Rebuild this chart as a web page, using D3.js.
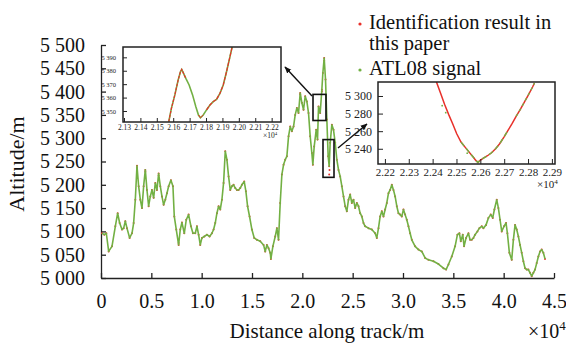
<!DOCTYPE html>
<html>
<head>
<meta charset="utf-8">
<script src="https://cdn.jsdelivr.net/npm/d3@7"></script>
<style>
  body { margin: 0; background: #fff; }
  svg { font-family: "Liberation Serif", "DejaVu Serif", serif; }
</style>
</head>
<body>
<div id="chart"></div>
<script>
// main profile, distance along track (m) / altitude (m)
const distance = [99,331,529,761,1092,1423,1655,1853,2085,2250,2416,2581,2846,3077,3243,3408,3574,3739,3905,4070,4236,4401,4566,4732,4897,5063,5228,5394,5559,5725,5890,6055,6221,6386,6552,6717,6949,7147,7280,7478,7710,7875,8041,8273,8471,8703,8934,9133,9364,9530,9695,9861,10026,10258,10523,10787,11019,11184,11350,11515,11681,11846,12012,12177,12343,12508,12673,12839,13004,13170,13335,13501,13666,13832,13997,14229,14394,14560,14758,14990,15221,15486,15817,16148,16313,16479,16644,16810,16876,17074,17306,17472,17637,17802,17968,18133,18299,18464,18630,18795,18961,19126,19291,19457,19622,19788,19953,20119,20284,20450,20615,20781,20946,21045,21178,21376,21509,21608,21773,21939,22038,22170,22303,22435,22567,22667,22766,22932,23097,23263,23428,23594,23759,23924,24090,24255,24421,24586,24752,24917,25083,25248,25413,25579,25744,25910,26075,26241,26571,26902,27233,27399,27564,27730,27895,28060,28226,28391,28557,28722,28888,29053,29218,29384,29549,29715,29880,30046,30211,30376,30542,30707,30873,31204,31535,31866,32197,32527,33024,33520,34017,34281,34513,34844,35175,35406,35605,35737,35936,36068,36267,36499,36664,36829,36995,37160,37392,37590,37822,37987,38252,38484,38715,38914,39079,39311,39476,39642,39807,40039,40237,40370,40568,40800,40965,41131,41296,41462,41627,41793,41958,42124,42289,42454,42620,42785,42951,43116,43282,43447,43613,43778,43943,44109];
const altitude = [5096,5093,5096,5057,5068,5111,5139,5118,5104,5107,5122,5107,5086,5096,5118,5168,5241,5197,5168,5150,5197,5232,5189,5154,5175,5189,5172,5204,5189,5224,5197,5175,5157,5168,5182,5197,5210,5197,5132,5104,5071,5104,5119,5096,5125,5136,5111,5096,5096,5111,5093,5071,5086,5089,5093,5089,5096,5104,5118,5139,5154,5147,5168,5204,5272,5254,5218,5189,5197,5200,5193,5189,5189,5193,5200,5207,5186,5154,5132,5104,5086,5082,5079,5071,5057,5071,5064,5054,5041,5068,5089,5107,5082,5161,5222,5243,5254,5261,5304,5325,5315,5325,5350,5365,5354,5397,5376,5361,5390,5379,5354,5304,5268,5243,5282,5318,5297,5368,5354,5404,5440,5472,5426,5340,5261,5240,5290,5329,5318,5290,5254,5232,5218,5197,5175,5154,5143,5168,5179,5161,5168,5150,5161,5154,5139,5132,5118,5111,5107,5104,5096,5086,5107,5132,5143,5132,5147,5161,5182,5189,5200,5189,5175,5154,5139,5136,5132,5147,5136,5125,5111,5096,5082,5068,5061,5057,5043,5039,5036,5030,5021,5018,5029,5046,5068,5093,5096,5079,5093,5068,5086,5096,5082,5082,5086,5093,5100,5107,5111,5107,5114,5129,5136,5129,5147,5168,5150,5125,5100,5111,5118,5096,5054,5039,5082,5114,5104,5089,5071,5054,5036,5021,5018,5018,5011,5004,5011,5018,5032,5046,5057,5061,5054,5041];

// points where the identification result leaves the ATL08 line
const redDistance = [3574,4401,5725,7710,16876,19788,21939,22170,22667,22700];
const redAltitude = [5236,5228,5220,5075,5045,5394,5400,5466,5222,5232];

// zoom window 1
const z1Distance = [21573,21589,21610,21630,21644,21652,21661,21677,21697,21718,21738,21754,21766,21783,21803,21824,21844,21864,21885,21905,21925,21946,21962];
const z1Altitude = [5342.1,5352,5362,5373,5379.3,5381,5378.6,5374.3,5369.4,5362,5353.2,5347,5345,5347,5350.8,5354.5,5357,5358.7,5363.2,5369.4,5379.3,5390.5,5399.2];
// zoom window 2
const z2Distance = [22416,22433,22450,22467,22484,22501,22519,22536,22553,22570,22581,22590,22599,22613,22630,22647,22664,22681,22699,22716,22733,22750,22767,22784,22801,22819,22827];
const z2Altitude = [5316,5303.4,5290.5,5279.1,5268.5,5257.1,5247.6,5241.9,5236.2,5230.6,5226.8,5224.5,5226.8,5229.4,5232.1,5235.5,5240,5245.7,5253.3,5260.9,5268.5,5276.9,5284.4,5292.8,5301.1,5310.2,5314.8];
// stray ATL08 points beside the curve in window 2
const z2StrayDistance = [22440, 22455, 22545];
const z2StrayAltitude = [5289, 5281, 5235];

// rectangles drawn on the main profile
const box1 = { d: [21060, 22350], alt: [5338, 5394] };
const box2 = { d: [22053, 23146], alt: [5216, 5297] };

const xTicks = d3.range(0, 45001, 5000);
const yTicks = d3.range(5000, 5501, 50);

const red = "#e8302a", green = "#72b043";
const width = 566, height = 344;

const svg = d3.select("#chart").append("svg")
  .attr("width", width).attr("height", height);

const x = d3.scaleLinear().domain([0, 45000]).range([101, 554]);
const y = d3.scaleLinear().domain([5000, 5500]).range([278, 45]);

const spaced = d3.formatLocale({ decimal: ".", thousands: " ", grouping: [3], currency: ["", ""] }).format(",");

// axes
const gx = svg.append("g").attr("transform", "translate(0,278)")
  .call(d3.axisBottom(x).tickValues(xTicks).tickSize(-5).tickSizeOuter(0).tickPadding(16)
    .tickFormat(d => d === 0 ? "0" : (d / 1e4).toFixed(1)));
const gy = svg.append("g").attr("transform", "translate(101,0)")
  .call(d3.axisLeft(y).tickValues(yTicks).tickSize(-5).tickSizeOuter(0).tickPadding(16)
    .tickFormat(spaced));
[gx, gy].forEach(g => {
  g.selectAll("text").attr("font-size", 20).attr("font-family", "Liberation Serif").attr("fill", "#111");
  g.selectAll("line, path").attr("stroke", "#222").attr("stroke-width", 1.3);
});

svg.append("text").attr("transform", "translate(24,164) rotate(-90)")
  .attr("text-anchor", "middle").attr("font-size", 22).attr("fill", "#111").text("Altitude/m");
svg.append("text").attr("x", 327).attr("y", 338)
  .attr("text-anchor", "middle").attr("font-size", 21).attr("fill", "#111").text("Distance along track/m");
svg.append("text").attr("x", 528).attr("y", 338).attr("font-size", 20).attr("fill", "#111")
  .html('×10<tspan dy="-8" font-size="13">4</tspan>');

// main profile
const pts = distance.map((d, i) => [d, altitude[i]]);
const line = d3.line().x(d => x(d[0])).y(d => y(d[1]));

svg.append("g").selectAll("circle").data(pts).enter().append("circle")
  .attr("cx", d => x(d[0])).attr("cy", d => y(d[1])).attr("r", 1.0).attr("fill", red);
svg.append("g").selectAll("circle").data(redDistance.map((d, i) => [d, redAltitude[i]])).enter().append("circle")
  .attr("cx", d => x(d[0])).attr("cy", d => y(d[1])).attr("r", 1.0).attr("fill", red);
svg.append("path").datum(pts).attr("d", line)
  .attr("fill", "none").attr("stroke", green).attr("stroke-width", 1.6).attr("stroke-linejoin", "round");

// boxes on main profile
[box1, box2].forEach(b => {
  svg.append("rect")
    .attr("x", x(b.d[0])).attr("y", y(b.alt[1]))
    .attr("width", x(b.d[1]) - x(b.d[0])).attr("height", y(b.alt[0]) - y(b.alt[1]))
    .attr("fill", "none").attr("stroke", "#111").attr("stroke-width", 1.6);
});

// arrows
const defs = svg.append("defs");
defs.append("marker").attr("id", "head").attr("viewBox", "0 0 10 10")
  .attr("refX", 9).attr("refY", 5).attr("markerWidth", 5).attr("markerHeight", 5).attr("orient", "auto")
  .append("path").attr("d", "M0,1L10,5L0,9Z").attr("fill", "#111");
svg.append("line").attr("x1", 312).attr("y1", 96).attr("x2", 285).attr("y2", 67)
  .attr("stroke", "#111").attr("stroke-width", 1.4).attr("marker-end", "url(#head)");
svg.append("line").attr("x1", 338).attr("y1", 148).attr("x2", 367).attr("y2", 124)
  .attr("stroke", "#111").attr("stroke-width", 1.4).attr("marker-end", "url(#head)");

// inset drawing helper
function inset(id, xs, ys, xt, yt, opt) {
  const g = svg.append("g");
  const [x0, x1] = xs.range(), [y0, y1] = ys.range();
  g.append("rect").attr("x", x0).attr("y", y1).attr("width", x1 - x0).attr("height", y0 - y1).attr("fill", "#fff");
  defs.append("clipPath").attr("id", id).append("rect")
    .attr("x", x0).attr("y", y1).attr("width", x1 - x0).attr("height", y0 - y1);
  const body = g.append("g").attr("clip-path", `url(#${id})`);
  g.append("g").attr("transform", `translate(0,${y0})`)
    .call(d3.axisBottom(xs).tickValues(xt).tickSize(-opt.tick).tickSizeOuter(0).tickPadding(opt.xpad)
      .tickFormat(d => (d / 1e4).toFixed(2)))
    .call(a => a.selectAll("text").attr("font-size", opt.xfont));
  g.append("g").attr("transform", `translate(${x0},0)`)
    .call(d3.axisLeft(ys).tickValues(yt).tickSize(-opt.tick).tickSizeOuter(0).tickPadding(opt.ypad)
      .tickFormat(spaced))
    .call(a => a.selectAll("text").attr("font-size", opt.yfont));
  g.selectAll("text").attr("font-family", "Liberation Serif").attr("fill", "#222");
  g.selectAll(".domain").remove();
  g.selectAll(".tick line").attr("stroke", "#222").attr("stroke-width", 1);
  g.append("rect").attr("x", x0).attr("y", y1).attr("width", x1 - x0).attr("height", y0 - y1)
    .attr("fill", "none").attr("stroke", "#222").attr("stroke-width", 1.5);
  g.append("text").attr("x", x1 - opt.expX).attr("y", y0 + opt.expY)
    .attr("font-size", opt.xfont).attr("fill", "#222").attr("font-family", "Liberation Serif")
    .html(`×10<tspan dy="-${opt.xfont * 0.4}" font-size="${opt.xfont * 0.65}">4</tspan>`);
  return body;
}

// window 1
const xz1 = d3.scaleLinear().domain([21294, 22257]).range([123, 281]);
const yz1 = d3.scaleLinear().domain([5341.8, 5397.7]).range([122, 47]);
const b1 = inset("clip1", xz1, yz1, d3.range(21300, 22201, 100), d3.range(5350, 5391, 10),
  { tick: 4, xpad: 3, ypad: 7, xfont: 7.5, yfont: 6.5, expX: 18, expY: 16 });
const l1 = d3.line().x(d => xz1(d[0])).y(d => yz1(d[1]));
const z1 = z1Distance.map((d, i) => [d, z1Altitude[i]]);
b1.append("path").datum(z1).attr("d", l1).attr("fill", "none").attr("stroke", green).attr("stroke-width", 1.6);
b1.append("path").datum(z1.slice(0, 8)).attr("d", l1).attr("fill", "none").attr("stroke", red)
  .attr("stroke-width", 1.2).attr("stroke-dasharray", "3,1");
b1.append("path").datum(z1.slice(11, 14)).attr("d", l1).attr("fill", "none").attr("stroke", red).attr("stroke-width", 1);
b1.append("path").datum(z1.slice(14)).attr("d", l1).attr("fill", "none").attr("stroke", red)
  .attr("stroke-width", 1.2).attr("stroke-dasharray", "4,1");

// window 2
const xz2 = d3.scaleLinear().domain([22171, 22913]).range([378, 555]);
const yz2 = d3.scaleLinear().domain([5222.7, 5315.9]).range([164, 82]);
const b2 = inset("clip2", xz2, yz2, d3.range(22200, 22901, 100), d3.range(5240, 5301, 20),
  { tick: 5, xpad: 4, ypad: 6, xfont: 11, yfont: 12, expX: 18, expY: 24 });
const l2 = d3.line().x(d => xz2(d[0])).y(d => yz2(d[1]));
const z2 = z2Distance.map((d, i) => [d, z2Altitude[i]]);
b2.append("path").datum(z2).attr("d", l2).attr("fill", "none").attr("stroke", red).attr("stroke-width", 1.5);
b2.append("path").datum(z2.slice(6, 20)).attr("d", l2).attr("fill", "none").attr("stroke", green)
  .attr("stroke-width", 1.4).attr("stroke-dasharray", "5,3");
b2.append("path").datum(z2.slice(21)).attr("d", l2).attr("fill", "none").attr("stroke", green)
  .attr("stroke-width", 1.3).attr("stroke-dasharray", "3,3");
b2.selectAll(".stray").data(z2StrayDistance.map((d, i) => [d, z2StrayAltitude[i]])).enter().append("circle")
  .attr("cx", d => xz2(d[0])).attr("cy", d => yz2(d[1])).attr("r", 0.9).attr("fill", green);

// legend
const legend = [
  { color: red, lines: ["Identification result in", "this paper"], y: 29 },
  { color: green, lines: ["ATL08 signal"], y: 75 }
];
legend.forEach(it => {
  svg.append("circle").attr("cx", 360).attr("cy", it.y - 5).attr("r", 1.6).attr("fill", it.color);
  it.lines.forEach((t, i) => {
    svg.append("text").attr("x", 369).attr("y", it.y + i * 21).attr("font-size", 20.5).attr("fill", "#111").text(t);
  });
});
</script>
</body>
</html>
